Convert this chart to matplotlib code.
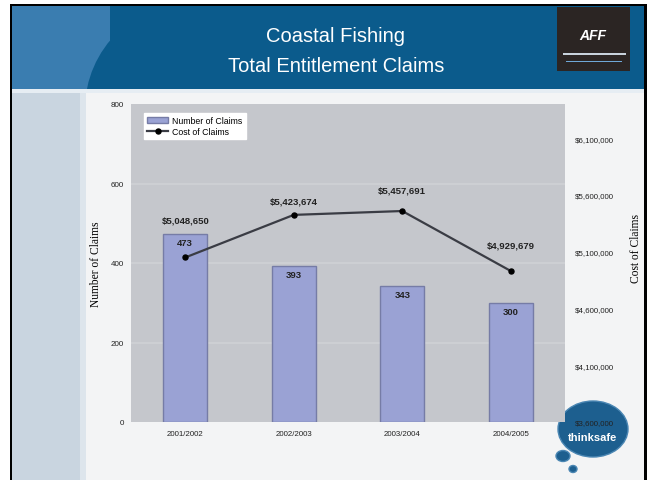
import numpy as np
import matplotlib.pyplot as plt
from matplotlib.patches import Rectangle, Ellipse
from matplotlib.ticker import FuncFormatter

years = ['2001/2002', '2002/2003', '2003/2004', '2004/2005']
num_claims = [473, 393, 343, 300]
cost_claims = [5048650, 5423674, 5457691, 4929679]

left_ticks = [0, 200, 400, 600, 800]
right_ticks = [3600000, 4100000, 4600000, 5100000, 5600000, 6100000]

# label lift above each cost point, in points
cost_label_offset = [27, 10, 15, 19]

W, H = 650, 481
fig = plt.figure(figsize=(W/100, H/100), dpi=100)
fig.patch.set_facecolor('white')

def px(x, y, w, h):
	# pixel box (top-left origin) -> figure fraction
	return (x/W, 1-(y+h)/H), w/W, h/H

def frect(x, y, w, h, color, z=-5, **kw):
	xy, ww, hh = px(x, y, w, h)
	r = Rectangle(xy, ww, hh, transform=fig.transFigure,
		facecolor=color, edgecolor='none', zorder=z, **kw)
	fig.patches.append(r)
	return r

def fell(cx, cy, w, h, color, z=-5, **kw):
	xy, ww, hh = px(cx-w/2, cy-h/2, w, h)
	e = Ellipse((xy[0]+ww/2, xy[1]+hh/2), ww, hh, transform=fig.transFigure,
		facecolor=color, zorder=z, **kw)
	fig.patches.append(e)
	return e

# slide body and side strip
frect(12, 90, 633, 391, '#f3f4f5', z=-9)
frect(12, 90, 68, 391, '#c9d5e0', z=-8)
frect(80, 90, 6, 391, '#dde5ec', z=-8)
frect(12, 90, 633, 4, '#e6edf3', z=-7.5)

# header band with a rounded dark panel over the lighter left corner
band = frect(12, 7, 633, 83, '#3a7db0', z=-7)
frect(110, 7, 535, 83, '#0b5b8c', z=-6)
dark = fell(200, 110, 230, 220, '#0b5b8c', z=-6, edgecolor='none')
dark.set_clip_path(band)

# black border
for x, y, w, h in [(10, 5, 2, 476), (644, 5, 3, 476), (10, 5, 637, 2)]:
	frect(x, y, w, h, 'black', z=-4)

# AFF logo block
frect(557, 8, 73, 64, '#2b2523', z=-5)
fig.text(593/W, 1-36/H, 'AFF', color='white', fontsize=10, fontweight='bold',
	fontstyle='italic', ha='center', va='center', family='Liberation Sans')
frect(563, 54, 63, 2, '#c8d2dc', z=-4.5)
frect(566, 62, 56, 1, '#6fa8d8', z=-4.5)

fig.text(336/W, 1-37/H, 'Coastal Fishing', color='white', fontsize=14.5,
	ha='center', va='center', family='Liberation Sans')
fig.text(336/W, 1-67/H, 'Total Entitlement Claims', color='white', fontsize=14.5,
	ha='center', va='center', family='Liberation Sans')

# thinksafe bubble
for cx, cy, w, h in [(593, 430, 70, 56), (563, 457, 14, 11), (573, 470, 8, 7)]:
	fell(cx, cy, w, h, '#1d5f8f', z=-3, edgecolor='#4a86b3', lw=1)
fig.text(593/W, 1-438/H, 'thinksafe', color='white', fontsize=8, fontweight='bold',
	ha='center', va='center', family='Liberation Sans', zorder=-2)

ax = fig.add_axes([131/W, 1-423/H, 434/W, 318/H])
ax.set_facecolor('#c5c7cc')
ax.set_zorder(1)
x = np.arange(len(years))
bars = ax.bar(x, num_claims, width=0.41, color='#9aa2d4', edgecolor='#767ca6',
	linewidth=1, label='Number of Claims', zorder=3)
ax.set_xlim(-0.5, 3.5)
ax.set_ylim(0, 800)
ax.set_yticks(left_ticks)
ax.set_xticks(x)
ax.set_xticklabels(years)
for y in left_ticks[1:-1]:
	ax.axhline(y, color='#cfd1d5', lw=1.2, zorder=1)
for s in ax.spines.values():
	s.set_visible(False)
ax.tick_params(axis='y', length=0, labelsize=5.8, colors='#222222', pad=5)
ax.tick_params(axis='x', length=0, labelsize=5.7, colors='#222222', pad=6)
for lab in ax.get_xticklabels() + ax.get_yticklabels():
	lab.set_family('Liberation Sans')
ax.set_ylabel('Number of Claims', family='Liberation Serif', fontsize=8.3, labelpad=6)

for xi, v in zip(x, num_claims):
	ax.text(xi, v - 11, str(v), ha='center', va='top', fontsize=6.8, fontweight='bold',
		family='Liberation Sans', color='#222222', zorder=5)

ax2 = ax.twinx()
ax2.set_ylim(3600000, 6400000)
ax2.set_yticks(right_ticks)
ax2.yaxis.set_major_formatter(FuncFormatter(lambda v, p: '${:,.0f}'.format(v)))
line, = ax2.plot(x, cost_claims, color='#3a3c44', lw=1.6, marker='o', markersize=3.6,
	markerfacecolor='black', markeredgecolor='black', label='Cost of Claims', zorder=4)
for s in ax2.spines.values():
	s.set_visible(False)
ax2.tick_params(length=0, labelsize=5.7, colors='#222222', pad=7)
for lab in ax2.get_yticklabels():
	lab.set_family('Liberation Sans')
ax2.set_ylabel('Cost of Claims', family='Liberation Serif', fontsize=8.3, labelpad=12)
ax2.yaxis.set_label_coords(1.15, 0.55)

for xi, v, off in zip(x, cost_claims, cost_label_offset):
	ax2.annotate('${:,.0f}'.format(v), (xi, v), xytext=(0, off), textcoords='offset points',
		ha='center', va='center', fontsize=6.8, fontweight='bold',
		family='Liberation Sans', color='#222222')

leg = ax2.legend([bars, line], ['Number of Claims', 'Cost of Claims'], loc='upper left',
	bbox_to_anchor=(0.02, 0.985), frameon=True, fancybox=False,
	framealpha=1, edgecolor='white', handlelength=2.4, borderpad=0.35, labelspacing=0.25,
	handletextpad=0.5, prop={'family': 'Liberation Sans', 'size': 6.3})

fig.savefig('out.png', dpi=100)
